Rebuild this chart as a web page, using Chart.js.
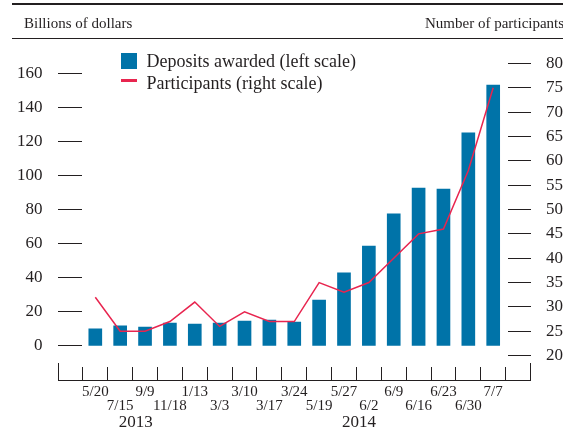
<!DOCTYPE html>
<html>
<head>
<meta charset="utf-8">
<script src="https://cdn.jsdelivr.net/npm/chart.js@4/dist/chart.umd.min.js"></script>
<style>
  body { margin: 0; background: #fff; }
  #wrap {
    position: relative; width: 563px; height: 429px; overflow: hidden;
    font-family: 'Liberation Serif', 'Times New Roman', serif; color: #231f20;
  }
  #wrap canvas { position: absolute; left: 0; top: 0; }
  .rule { position: absolute; left: 12px; right: 0; background: #231f20; }
  .txt { position: absolute; white-space: nowrap; }
  .swatch { position: absolute; }
</style>
</head>
<body>
<div id="wrap">
  <canvas id="c" width="563" height="429"></canvas>
  <div class="rule" style="top:3px;height:2px"></div>
  <div class="rule" style="top:38px;height:1px"></div>
  <div class="txt" id="leftTitle" style="left:24px;top:14px;font-size:15px;line-height:18px"></div>
  <div class="txt" id="rightTitle" style="left:425px;top:14px;font-size:15px;line-height:18px"></div>
  <div id="legend"></div>
  <div id="years"></div>
</div>
<script>
// Term deposit operations, 2013-2014
const dates = ['5/20', '7/15', '9/9', '11/18', '1/13', '3/3', '3/10', '3/17', '3/24',
               '5/19', '5/27', '6/2', '6/9', '6/16', '6/23', '6/30', '7/7'];
const deposits = [10, 11.7, 11.1, 13.4, 12.8, 13.4, 14.6, 15.2, 14.0,
                  26.9, 42.8, 58.6, 77.4, 92.6, 92.0, 125, 153];
const participants = [32, 25, 25, 27, 31, 26, 29, 27, 27,
                      35, 33, 35, 40, 45, 46, 58, 75];
const leftTicks = [0, 20, 40, 60, 80, 100, 120, 140, 160];
const rightTicks = [20, 25, 30, 35, 40, 45, 50, 55, 60, 65, 70, 75, 80];
const seriesNames = ['Deposits awarded (left scale)', 'Participants (right scale)'];
const axisTitles = ['Billions of dollars', 'Number of participants'];
const yearLabels = ['2013', '2014'];

const BLUE = '#0073a8';
const RED = '#e8254f';
const INK = '#231f20';
const SERIF = "'Liberation Serif', 'Times New Roman', serif";

// header, legend and year captions
document.getElementById('leftTitle').textContent = axisTitles[0];
document.getElementById('rightTitle').textContent = axisTitles[1];

const legend = document.getElementById('legend');
legend.innerHTML =
  '<div class="swatch" style="left:121px;top:53px;width:16px;height:16px;background:' + BLUE + '"></div>' +
  '<div class="txt" style="left:146.5px;top:51px;font-size:18px;line-height:20px"></div>' +
  '<div class="swatch" style="left:121px;top:79px;width:16px;height:3px;background:' + RED + '"></div>' +
  '<div class="txt" style="left:146.5px;top:72.5px;font-size:18px;line-height:20px"></div>';
const legendTexts = legend.querySelectorAll('.txt');
legendTexts[0].textContent = seriesNames[0];
legendTexts[1].textContent = seriesNames[1];

const years = document.getElementById('years');
const yearCenters = [135.7, 359];
yearLabels.forEach((y, i) => {
  const d = document.createElement('div');
  d.className = 'txt';
  d.style.cssText = 'left:' + yearCenters[i] + 'px;top:411.5px;font-size:17px;line-height:20px;transform:translateX(-50%)';
  d.textContent = y;
  years.appendChild(d);
});

// one empty slot at each end of the date axis; labels alternate between two rows
const pad = a => [null, ...a, null];
const labels = ['', ...dates.map((d, i) => (i % 2 === 0 ? [d, ''] : ['', d])), ''];

// taller end caps of the date axis
const axisEnds = {
  id: 'axisEnds',
  afterDraw(chart) {
    const x = chart.scales.x;
    const ctx = chart.ctx;
    ctx.save();
    ctx.strokeStyle = INK;
    ctx.lineWidth = 1;
    [x.left, x.right].forEach(px => {
      const p = Math.round(px - 0.5) + 0.5;
      ctx.beginPath();
      ctx.moveTo(p, Math.round(x.top));
      ctx.lineTo(p, Math.round(x.top) - 17);
      ctx.stroke();
    });
    ctx.restore();
  }
};

// value axes keep a fixed width and ask for no extra room above or below the plot
const fixedWidth = w => s => { s.width = w; s.paddingTop = 0; s.paddingBottom = 0; };

new Chart(document.getElementById('c'), {
  data: {
    labels: labels,
    datasets: [
      {
        type: 'line',
        label: seriesNames[1],
        data: pad(participants),
        yAxisID: 'y1',
        borderColor: RED,
        borderWidth: 1.5,
        pointRadius: 0,
        tension: 0,
        fill: false,
        order: 0
      },
      {
        type: 'bar',
        label: seriesNames[0],
        data: pad(deposits),
        yAxisID: 'y',
        backgroundColor: BLUE,
        barThickness: 13,
        order: 1
      }
    ]
  },
  options: {
    responsive: false,
    animation: false,
    devicePixelRatio: 1,
    layout: { padding: { top: 39, left: 0, right: 0, bottom: 0 } },
    plugins: { legend: { display: false }, tooltip: { enabled: false } },
    scales: {
      x: {
        type: 'category',
        offset: true,
        grid: { offset: true, drawOnChartArea: false, drawTicks: true, tickLength: -13, tickColor: INK, tickWidth: 1 },
        border: { display: true, color: INK, width: 1 },
        ticks: {
          autoSkip: false, maxRotation: 0, minRotation: 0, padding: 18, color: INK,
          font: { family: SERIF, size: 15, lineHeight: 14 / 15 }
        },
        afterFit: s => { s.height = 49; }
      },
      y: {
        position: 'left',
        min: -20, max: 180,
        afterBuildTicks: s => { s.ticks = leftTicks.map(v => ({ value: v })); },
        grid: { drawOnChartArea: false, drawTicks: true, tickLength: -24, tickColor: INK, tickWidth: 1 },
        border: { display: false },
        ticks: { padding: 39.5, color: INK, font: { family: SERIF, size: 17 } },
        afterFit: fixedWidth(58)
      },
      y1: {
        position: 'right',
        min: 15, max: 85,
        afterBuildTicks: s => { s.ticks = rightTicks.map(v => ({ value: v })); },
        grid: { drawOnChartArea: false, drawTicks: true, tickLength: -22.5, tickColor: INK, tickWidth: 1 },
        border: { display: false },
        ticks: { padding: 38, color: INK, font: { family: SERIF, size: 17 } },
        afterFit: fixedWidth(32.5)
      }
    }
  },
  plugins: [axisEnds]
});
</script>
</body>
</html>
